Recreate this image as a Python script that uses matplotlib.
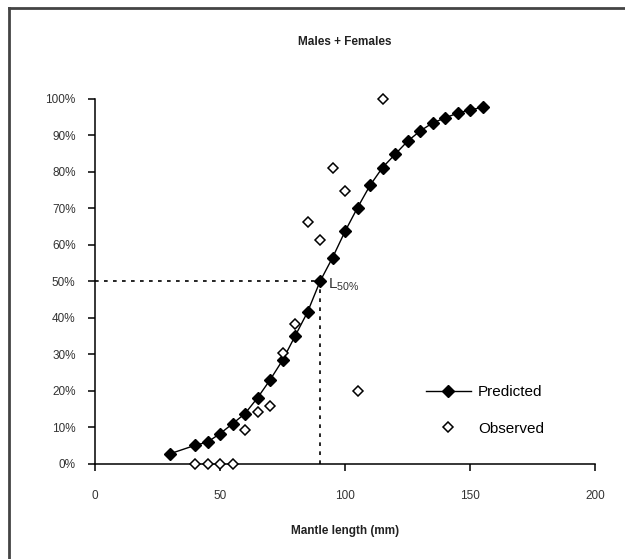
import numpy as np
import matplotlib
matplotlib.use("Agg")
import matplotlib.pyplot as plt
from matplotlib.ticker import PercentFormatter
from matplotlib.lines import Line2D

plt.rcParams["font.family"] = ["Liberation Sans", "DejaVu Sans"]

# predicted maturity ogive
pred_len = [30, 40, 45, 50, 55, 60, 65, 70, 75, 80, 85, 90, 95, 100, 105, 110,
            115, 120, 125, 130, 135, 140, 145, 150, 155]
pred_pct = [0.028, 0.051, 0.060, 0.083, 0.110, 0.138, 0.181, 0.230, 0.284, 0.350,
            0.416, 0.500, 0.565, 0.637, 0.702, 0.763, 0.812, 0.848, 0.884, 0.912,
            0.934, 0.948, 0.961, 0.970, 0.977]

# observed proportions mature
obs_len = [40, 45, 50, 55, 60, 65, 70, 75, 80, 85, 90, 95, 100, 105, 115]
obs_pct = [0.0, 0.0, 0.0, 0.0, 0.094, 0.142, 0.159, 0.304, 0.384, 0.662, 0.614,
           0.812, 0.747, 0.20, 1.0]

l50 = 90

fig = plt.figure(figsize=(6.25, 5.59), dpi=100)
ax = fig.add_axes([0.152, 0.170, 0.800, 0.653])

dots = (0, (2.2, 3.2))
ax.plot([0, l50], [0.5, 0.5], color="black", lw=1.2, linestyle=dots, zorder=1)
ax.plot([l50, l50], [0, 0.5], color="black", lw=1.2, linestyle=dots, zorder=1)

ax.plot(pred_len, pred_pct, color="black", lw=1.0, marker="D", markersize=6,
        markerfacecolor="black", markeredgecolor="black", zorder=3, clip_on=False)
ax.plot(obs_len, obs_pct, linestyle="none", marker="D", markersize=5.5,
        markerfacecolor="white", markeredgecolor="black", markeredgewidth=1.1,
        zorder=4, clip_on=False)

ax.text(l50 + 3, 0.49, "L$_{\\mathregular{50\\%}}$", fontsize=11, color="#333333",
        va="center", ha="left")

ax.set_xlim(0, 200)
ax.set_ylim(0, 1)
ax.set_xticks([0, 50, 100, 150, 200])
ax.set_yticks(np.arange(0, 1.01, 0.1))
ax.yaxis.set_major_formatter(PercentFormatter(1.0, decimals=0))
ax.tick_params(direction="out", length=5, width=1.1, labelsize=8.5, pad=9,
               colors="black", labelcolor="#333333")
ax.tick_params(axis="x", pad=14)
for s in ["top", "right"]:
    ax.spines[s].set_visible(False)
for s in ["left", "bottom"]:
    ax.spines[s].set_linewidth(1.1)

fig.text(345 / 625, 1 - 42 / 559, "Males + Females", fontsize=8.5, fontweight="bold",
         color="#222222", ha="center", va="center")
fig.text(345 / 625, 1 - 531 / 559, "Mantle length (mm)", fontsize=8.5,
         fontweight="bold", color="#222222", ha="center", va="center")

handles = [
    Line2D([], [], color="black", lw=1.0, marker="D", markersize=6,
           markerfacecolor="black"),
    Line2D([], [], linestyle="none", marker="D", markersize=5.5,
           markerfacecolor="white", markeredgecolor="black", markeredgewidth=1.1),
]
ax.legend(handles, ["Predicted", "Observed"], loc="lower left",
          bbox_to_anchor=(0.635, 0.04), frameon=False, fontsize=11,
          handlelength=2.9, labelspacing=1.45, handletextpad=0.5)

# outer frame (left and top edges only)
fig.add_artist(Line2D([9 / 625, 9 / 625], [0, 1 - 8 / 559], color="#444444", lw=2,
                      transform=fig.transFigure))
fig.add_artist(Line2D([9 / 625, 1], [1 - 8 / 559, 1 - 8 / 559], color="#444444", lw=2,
                      transform=fig.transFigure))

fig.savefig("out.png", dpi=100)
